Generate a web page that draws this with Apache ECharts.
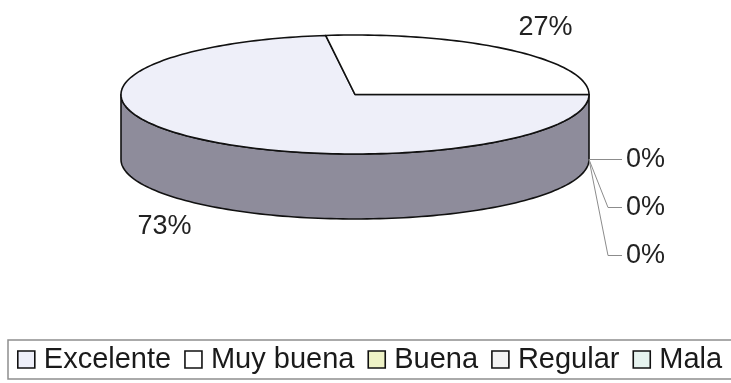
<!DOCTYPE html>
<html>
<head>
<meta charset="utf-8">
<script src="https://cdn.jsdelivr.net/npm/echarts@6/dist/echarts.min.js"></script>
<style>
  html, body { margin: 0; padding: 0; background: #ffffff; }
  #chart { width: 731px; height: 383px; }
</style>
</head>
<body>
<div id="chart"></div>
<script>
// Survey answers (share of respondents)
const categories = ['Excelente', 'Muy buena', 'Buena', 'Regular', 'Mala'];
const values = [73, 27, 0, 0, 0];

// Palette: top face and side wall of each slice
const topColors = ['#eeeff9', '#ffffff', '#eef2c6', '#f3f3f3', '#e6f3ef'];
const sideColors = ['#8e8c9b', '#a3a3a3', '#a8ac8c', '#a3a3a3', '#9aa6a2'];

// Tilted disc geometry (pixels)
const disc = { cx: 355, cy: 94.5, rx: 234, ry: 59.5, depth: 65 };
const FONT = '"Liberation Sans", Arial, sans-serif';

const total = values.reduce((a, b) => a + b, 0);

// Slice angles: start at 3 o'clock and run clockwise
const layout = [];
let cum = 0;
values.forEach((v, i) => {
  const start = -2 * Math.PI * cum / total;
  cum += v;
  const end = -2 * Math.PI * cum / total;
  const mid = (start + end) / 2;
  const thin = Math.abs(start - end) < 0.1;
  let stack = 0;
  if (thin) {
    for (let j = 0; j < i; j++) {
      if (layout[j].thin) stack++;
    }
  }
  layout.push({ start, end, mid, thin, stack });
});

function pt(t, dy) {
  return [disc.cx + disc.rx * Math.cos(t), disc.cy - disc.ry * Math.sin(t) + (dy || 0)];
}

function arc(t0, t1, dy) {
  const n = Math.max(2, Math.ceil(Math.abs(t1 - t0) / (Math.PI / 120)));
  const out = [];
  for (let k = 0; k <= n; k++) out.push(pt(t0 + (t1 - t0) * k / n, dy));
  return out;
}

function renderSlice(i, params, api) {
  const L = layout[i];
  const v = api.value(0);
  const children = [];
  const outline = { stroke: '#111111', lineWidth: 1.6, lineJoin: 'round' };

  if (v > 0) {
    // visible front wall
    const lo = Math.max(L.end, -Math.PI);
    const hi = Math.min(L.start, 0);
    if (lo < hi) {
      const pts = arc(hi, lo, 0).concat(arc(lo, hi, disc.depth));
      children.push({
        type: 'polygon', z2: 1,
        shape: { points: pts },
        style: Object.assign({ fill: sideColors[i] }, outline)
      });
    }
    // top face
    children.push({
      type: 'polygon', z2: 2,
      shape: { points: [[disc.cx, disc.cy]].concat(arc(L.start, L.end, 0)) },
      style: Object.assign({ fill: api.visual('color') }, outline)
    });
  }

  // percentage label
  const pct = Math.round(v / total * 100) + '%';
  const c = Math.cos(L.mid), s = Math.sin(L.mid);
  const front = s <= 1e-9;
  if (L.thin) {
    const ax = disc.cx + disc.rx * c;
    const ay = disc.cy - disc.ry * s + (front ? disc.depth : 0);
    const ly = ay + L.stack * 48;
    const line = L.stack === 0
      ? [[ax, ay], [ax + 33, ly]]
      : [[ax, ay], [ax + 19, ly], [ax + 33, ly]];
    children.push({
      type: 'polyline', z2: 4,
      shape: { points: line },
      style: { stroke: '#8c8c8c', lineWidth: 1, fill: null }
    });
    children.push({
      type: 'text', z2: 5, x: ax + 37, y: ly,
      style: { text: pct, fill: '#222222', font: '27px ' + FONT, align: 'left', verticalAlign: 'middle' }
    });
  } else {
    const lx = disc.cx + (disc.rx + 54) * c;
    const ly = disc.cy - (disc.ry + 30) * s + (front ? disc.depth : 0);
    children.push({
      type: 'text', z2: 5, x: lx, y: ly,
      style: { text: pct, fill: '#222222', font: '27px ' + FONT, align: 'center', verticalAlign: 'middle' }
    });
  }
  return { type: 'group', children };
}

const chart = echarts.init(document.getElementById('chart'), null, { renderer: 'canvas' });

chart.setOption({
  backgroundColor: '#ffffff',
  animation: false,
  legend: {
    data: categories,
    left: 8,
    top: 340,
    width: 780,
    orient: 'horizontal',
    icon: 'rect',
    itemWidth: 17,
    itemHeight: 17,
    itemGap: 13,
    padding: [5, 40, 5, 9],
    borderColor: '#8f8f8f',
    borderWidth: 1.5,
    selectedMode: false,
    itemStyle: { borderColor: '#111111', borderWidth: 1.6 },
    textStyle: { fontFamily: FONT, fontSize: 29, lineHeight: 29, color: '#1a1a1a', padding: [0, 0, 0, 4] }
  },
  series: categories.map((name, i) => ({
    type: 'custom',
    name: name,
    coordinateSystem: 'none',
    silent: true,
    itemStyle: { color: topColors[i] },
    data: [values[i]],
    renderItem: (params, api) => renderSlice(i, params, api)
  }))
});
</script>
</body>
</html>
